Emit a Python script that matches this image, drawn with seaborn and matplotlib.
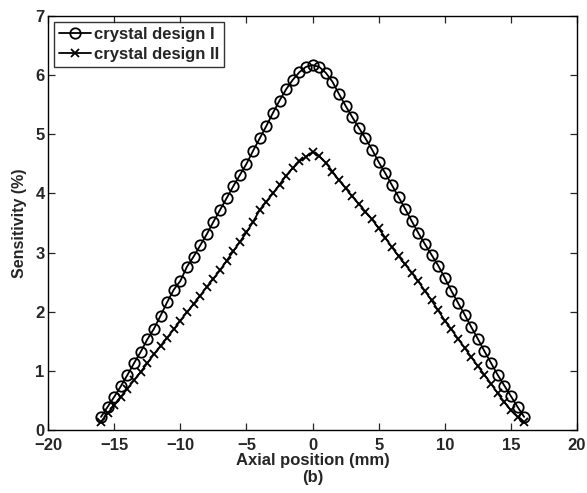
import numpy as np
import pandas as pd
import matplotlib
matplotlib.use('Agg')
import matplotlib.pyplot as plt
import seaborn as sns

# axial positions (mm), 0.5 mm step
positions = np.arange(-16, 16.01, 0.5)

# sensitivity (%)
design_1 = [0.22, 0.39, 0.56, 0.74, 0.93, 1.13, 1.32, 1.53, 1.71, 1.93, 2.16, 2.37, 2.52, 2.76, 2.93,
            3.12, 3.31, 3.52, 3.72, 3.92, 4.12, 4.31, 4.50, 4.72, 4.93, 5.14, 5.36, 5.57, 5.76, 5.92,
            6.05, 6.14, 6.17,
            6.14, 6.04, 5.89, 5.68, 5.48, 5.29, 5.11, 4.93, 4.74, 4.53, 4.34, 4.14, 3.94, 3.74, 3.53,
            3.33, 3.14, 2.96, 2.78, 2.57, 2.35, 2.15, 1.95, 1.74, 1.54, 1.33, 1.13, 0.93, 0.75, 0.57,
            0.39, 0.22]
design_2 = [0.14, 0.28, 0.42, 0.56, 0.70, 0.84, 0.98, 1.13, 1.28, 1.42, 1.56, 1.70, 1.85, 1.99, 2.13,
            2.27, 2.42, 2.56, 2.70, 2.86, 3.02, 3.18, 3.34, 3.52, 3.72, 3.86, 4.00, 4.15, 4.30, 4.43,
            4.54, 4.62, 4.70,
            4.63, 4.52, 4.37, 4.22, 4.09, 3.95, 3.82, 3.69, 3.56, 3.41, 3.25, 3.09, 2.94, 2.80, 2.66,
            2.51, 2.35, 2.19, 2.02, 1.85, 1.70, 1.54, 1.39, 1.23, 1.08, 0.93, 0.78, 0.62, 0.47, 0.33,
            0.22, 0.13]
labels = ['crystal design I', 'crystal design II']

sns.set_style('ticks')
plt.rcParams['font.family'] = ['Liberation Sans', 'DejaVu Sans']
plt.rcParams['font.weight'] = 'bold'
plt.rcParams['axes.labelweight'] = 'bold'
plt.rcParams['xtick.direction'] = 'in'
plt.rcParams['ytick.direction'] = 'in'

df = pd.DataFrame({'x': positions, 'I': design_1, 'II': design_2})

fig = plt.figure(figsize=(5.87, 4.93), dpi=100)
ax = fig.add_axes([0.082, 0.128, 0.901, 0.8395])

sns.lineplot(data=df, x='x', y='I', ax=ax, color='black', lw=1.3, marker='o', markersize=7.5,
             markerfacecolor='none', markeredgecolor='black', markeredgewidth=1.3, label=labels[0])
sns.lineplot(data=df, x='x', y='II', ax=ax, color='black', lw=1.3, marker='x', markersize=6,
             markeredgecolor='black', markeredgewidth=1.3, label=labels[1])

ax.set_xlim(-20, 20)
ax.set_ylim(0, 7)
ax.set_xticks(range(-20, 21, 5))
ax.set_yticks(range(0, 8))
ax.tick_params(top=True, right=True, length=5, width=0.9, labelsize=12)
ax.tick_params(axis='x', pad=6)
ax.tick_params(axis='y', pad=2.5)
for s in ax.spines.values():
    s.set_linewidth(1.0)
    s.set_color('black')

ax.set_xlabel('Axial position (mm)\n(b)', fontsize=12, fontweight='bold', labelpad=0, linespacing=1.15)
ax.set_ylabel('Sensitivity (%)', fontsize=11.5, fontweight='bold', labelpad=6)

leg = ax.legend(loc='upper left', fontsize=12, frameon=True, fancybox=False, handlelength=1.9,
                handletextpad=0.2, borderpad=0.3, labelspacing=0.3, borderaxespad=0.35)
leg.get_frame().set_edgecolor('black')
leg.get_frame().set_linewidth(1.0)
for t in leg.get_texts():
    t.set_fontweight('bold')

fig.savefig('out.png', dpi=100)
